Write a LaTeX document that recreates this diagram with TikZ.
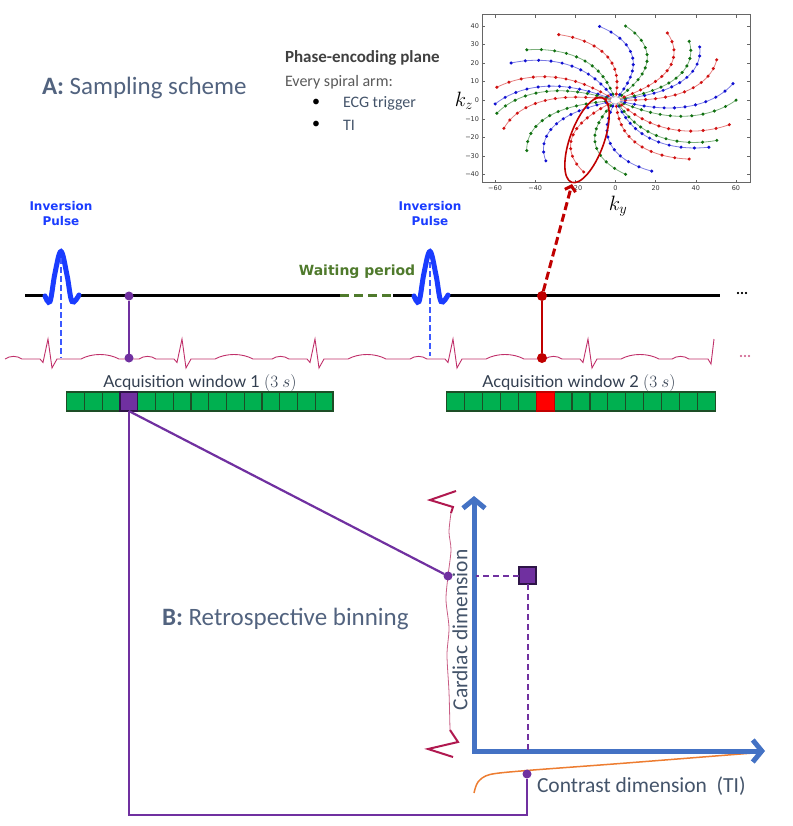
\documentclass[tikz,border=0pt]{standalone}
\usepackage{fontspec}
\setmainfont{Carlito}
\newfontfamily\dejavu{DejaVu Sans}
\newfontfamily\latofont{Lato}
\usetikzlibrary{arrows.meta}

\begin{document}
\begin{tikzpicture}[
  x=1pt, y=-1pt,
  every node/.style={inner sep=0pt, outer sep=0pt},
  title/.style={font=\fontsize{25}{29}\selectfont, text=slateL, anchor=west},
  info/.style={font=\fontsize{16}{19}\selectfont, anchor=west},
  pulselbl/.style={font=\dejavu\bfseries\fontsize{12}{15}\selectfont, text=pulseB, align=center},
  acqlbl/.style={font=\latofont\fontsize{16.5}{19}\selectfont, text=acqT},
  axlbl/.style={font=\fontsize{21.5}{25}\selectfont, text=slateD},
  tick/.style={font=\dejavu\fontsize{6.5}{8}\selectfont, text=black!80},
  cell/.style={draw=cellE, fill=cellG, line width=1.2pt, minimum height=19pt},
  pdot/.style={circle, fill=purp, minimum size=9pt},
  rdot/.style={circle, fill=redD, minimum size=10pt},
  pline/.style={draw=purp, line width=2.2pt},
  ecg/.style={draw=ecgC, line width=0.9pt},
  pulse/.style={draw=pulseB, line width=5pt, line cap=round},
  axis/.style={draw=axisB, line width=5pt,
    {Straight Barb[length=9pt,width=22pt]}-{Straight Barb[length=9pt,width=22pt]}},
]
%-------------------------------------------------------------
% Custom colors
\definecolor{slateL}{HTML}{52637F}
\definecolor{slateD}{HTML}{44546A}
\definecolor{pulseB}{HTML}{1A3CFF}
\definecolor{waitG}{HTML}{4F7A2C}
\definecolor{acqT}{HTML}{333F50}
\definecolor{cellG}{HTML}{00B050}
\definecolor{cellE}{HTML}{1D4E26}
\definecolor{purp}{HTML}{7030A0}
\definecolor{purpD}{HTML}{2E1547}
\definecolor{redD}{HTML}{C00000}
\definecolor{ecgC}{HTML}{C0306A}
\definecolor{braceC}{HTML}{B0184F}
\definecolor{axisB}{HTML}{4472C4}
\definecolor{oraC}{HTML}{ED7D31}
\definecolor{armR}{HTML}{D01010}
\definecolor{armG}{HTML}{107010}
\definecolor{armB}{HTML}{1010D0}

\useasboundingbox (0,0) rectangle (792,826);

%-------------------------------------------------------------
% Titles and notes
\node[title] (tA) at (42,88) {\textbf{A:} Sampling scheme};
\node[title] (tB) at (162,619) {\textbf{B:} Retrospective binning};
\node[info, font=\bfseries\fontsize{17}{20}\selectfont, text=black!75] (pe) at (285,58) {Phase-encoding plane};
\node[info, text=black!65] (arm) at (285,82) {Every spiral arm:};
\node[info] (b1) at (312,103) {•};
\node[info] (b2) at (312,125) {•};
\node[info, text=slateD] (ecgtr) at (343,103) {ECG trigger};
\node[info, text=slateD] (ti) at (343,125) {TI};

%-------------------------------------------------------------
% Phase-encoding plane (spiral arms)
\draw[black!60, line width=1pt] (482,15) rectangle (750,183);
\foreach \v in {-60,-40,...,60} {
  \draw[black!60] (615.5+2.008*\v,183) -- ++(0,-3);
  \draw[black!60] (615.5+2.008*\v,15) -- ++(0,3);
  \node[tick, anchor=north] at (615.5+2.008*\v,186) {\ifnum\v<0 −\the\numexpr-\v\relax\else\v\fi};
}
\foreach \v in {-40,-30,...,40} {
  \draw[black!60] (482,100.2-1.86*\v) -- ++(3,0);
  \draw[black!60] (750,100.2-1.86*\v) -- ++(-3,0);
  \node[tick, anchor=east] at (479,100.2-1.86*\v) {\ifnum\v<0 −\the\numexpr-\v\relax\else\v\fi};
}
\foreach \a/\c in {0/armG,12.9/armB,32.9/armR,45.7/armB,52.3/armG,64.5/armR,
  85.2/armG,97.6/armB,118.1/armR,137.4/armG,150/armB,170/armR,
  182.9/armB,190.1/armG,202.2/armR,222.6/armG,234.7/armB,254.7/armR,
  274.8/armG,287.5/armB,307.7/armR,320.8/armB,327.3/armG,340.8/armR} {
  \draw[\c!55!white, line width=0.8pt] plot[domain=0.04:1, samples=30, smooth]
    ({615.5+120.5*\x*cos(\a-33+33*\x*\x)}, {100.2-74.4*\x*sin(\a-33+33*\x*\x)});
  \foreach \k in {1,...,12}
    \fill[\c] ({615.5+120.5*(\k/12)*cos(\a-33+33*(\k/12)^2)},
               {100.2-74.4*(\k/12)*sin(\a-33+33*(\k/12)^2)}) circle (1.7pt);
}
\node[font=\fontsize{20}{24}\selectfont] (kz) at (464,101) {$k_z$};
\node[font=\fontsize{20}{24}\selectfont] (ky) at (618,206) {$k_y$};
\draw[redD, line width=1.6pt, rotate around={70:(587,140)}] (587,140) ellipse [x radius=45pt, y radius=17pt];
\coordinate (ellbot) at (572,184);

%-------------------------------------------------------------
% Timeline with inversion pulses
\draw[black, line width=3pt] (25,295) -- (45,295);
\draw[black, line width=3pt] (79,295) -- (340,295);
\draw[waitG, line width=3pt, dash pattern=on 9pt off 5pt] (340,295) -- (393,295);
\draw[black, line width=3pt] (393,295) -- (414,295);
\draw[black, line width=3pt] (448,295) -- (720,295);
\node[font=\bfseries\fontsize{15}{18}\selectfont] (dots1) at (742,293) {...};

\foreach \c in {61,430} {
  \draw[pulse] plot[smooth, tension=0.6] coordinates
    {(\c-16,296) (\c-11,301.5) (\c-6,273) (\c,251.5) (\c+6,275) (\c+11,301.5) (\c+18,295)};
}
\node[pulselbl] (ip1) at (61,214) {Inversion\\Pulse};
\node[pulselbl] (ip2) at (430,214) {Inversion\\Pulse};
\coordinate (ip1t) at (61,258); \coordinate (ip1b) at (61,358);
\coordinate (ip2t) at (430,262); \coordinate (ip2b) at (430,356);
\draw[pulseB!85!white, line width=2.5pt, dash pattern=on 6pt off 3pt] (ip1t) -- (ip1b);
\draw[pulseB!85!white, line width=2.5pt, dash pattern=on 6pt off 3pt] (ip2t) -- (ip2b);
\node[font=\dejavu\bfseries\fontsize{14}{17}\selectfont, text=waitG] (wait) at (357,272) {Waiting period};

%-------------------------------------------------------------
% ECG trace
\foreach \s/\n in {48/182,182/315,315/453,453/588,588/715} {
  \draw[ecg] (\s-43,359) .. controls (\s-38,355.5) and (\s-31,355.5) .. (\s-26,359)
    -- (\s-8,359) -- (\s-5,362.5) -- (\s,339) -- (\s+4,368) -- (\s+9,359)
    -- (\s+33,359) .. controls (\s+44,353) and (\s+60,353) .. (\s+71,359) -- (\n-43,359);
}
\draw[ecg] (672,359) .. controls (677,355.5) and (684,355.5) .. (689,359)
  -- (708,359) -- (711,364) -- (714,339);
\node[font=\bfseries\fontsize{15}{18}\selectfont, text=ecgC!70!white] (dots2) at (745,356) {...};

% acquisitions inside the timeline
\node[pdot] (ptop) at (129,296) {};
\node[pdot] (pbot) at (129,358) {};
\draw[pline] (ptop) -- (pbot);
\node[rdot] (rtop) at (542,296) {};
\node[rdot] (rbot) at (542,358) {};
\draw[redD, line width=2.5pt] (rtop) -- (rbot);
\draw[redD, line width=3pt, dash pattern=on 8pt off 4pt, -{Straight Barb[length=5pt,width=11pt]}] (rtop) -- (ellbot);

%-------------------------------------------------------------
% Acquisition windows
\node[acqlbl] (acq1) at (200,383) {Acquisition window 1 $(3\ s)$};
\node[acqlbl] (acq2) at (579,383) {Acquisition window 2 $(3\ s)$};
\foreach \i in {0,1,2,4,5,6,7,8,9,10,11,12,13,14}
  \node[cell, minimum width=17.75pt] (wa\i) at (66.7+17.75*\i+8.875,401.5) {};
\node[cell, minimum width=17.75pt, fill=purp, draw=purpD] (wa3) at (66.7+17.75*3+8.875,401.5) {};
\foreach \i in {0,1,2,3,4,6,7,8,9,10,11,12,13,14}
  \node[cell, minimum width=17.9pt] (wb\i) at (446.7+17.9*\i+8.95,401.5) {};
\node[cell, minimum width=17.9pt, fill=red, draw=redD] (wb5) at (446.7+17.9*5+8.95,401.5) {};

%-------------------------------------------------------------
% Retrospective binning
\coordinate (O) at (474,751);
\coordinate (ytip) at (474,496);
\coordinate (xtip) at (765,751);
\draw[oraC, line width=1.5pt] plot[smooth] coordinates
  {(474,793) (478,782) (490,774.5) (527,770.5) (620,763.5) (753,753)};
\draw[axis] (ytip) -- (O) -- (xtip);
\node[axlbl, rotate=90] (card) at (460,630) {Cardiac dimension};
\node[axlbl, anchor=west] (contr) at (537,786) {Contrast dimension\ \ (TI)};

% brace along the cardiac dimension
\draw[braceC, line width=2pt] (456,491) -- (430,500) -- (453,507) -- (451,513);
\draw[braceC!70!white, line width=0.8pt] plot[smooth] coordinates
  {(451,513) (449,532) (451,550) (448,576) (446,600) (449,628) (447,655) (449,692) (450,730)};
\draw[braceC, line width=2pt] (450,730) -- (458,742) -- (428,749) -- (453,757);

\node[pdot] (bdot) at (448,576) {};
\node[pdot] (cdot) at (527,774) {};
\node[draw=purpD, fill=purp, line width=1.8pt, minimum size=17pt] (sq) at (527.5,575.5) {};
\coordinate (yax) at (476,575.5);
\coordinate (xax) at (527.5,751);
\coordinate (cbase) at (527,815);
\draw[purp, line width=2pt, dash pattern=on 6pt off 4pt] (sq) -- (yax);
\draw[purp, line width=2pt, dash pattern=on 6pt off 4pt] (sq) -- (xax);
\draw[pline] (wa3.south) -- (bdot);
\draw[pline] (wa3.south) |- (cbase) -- (cdot);

\end{tikzpicture}
\end{document}
